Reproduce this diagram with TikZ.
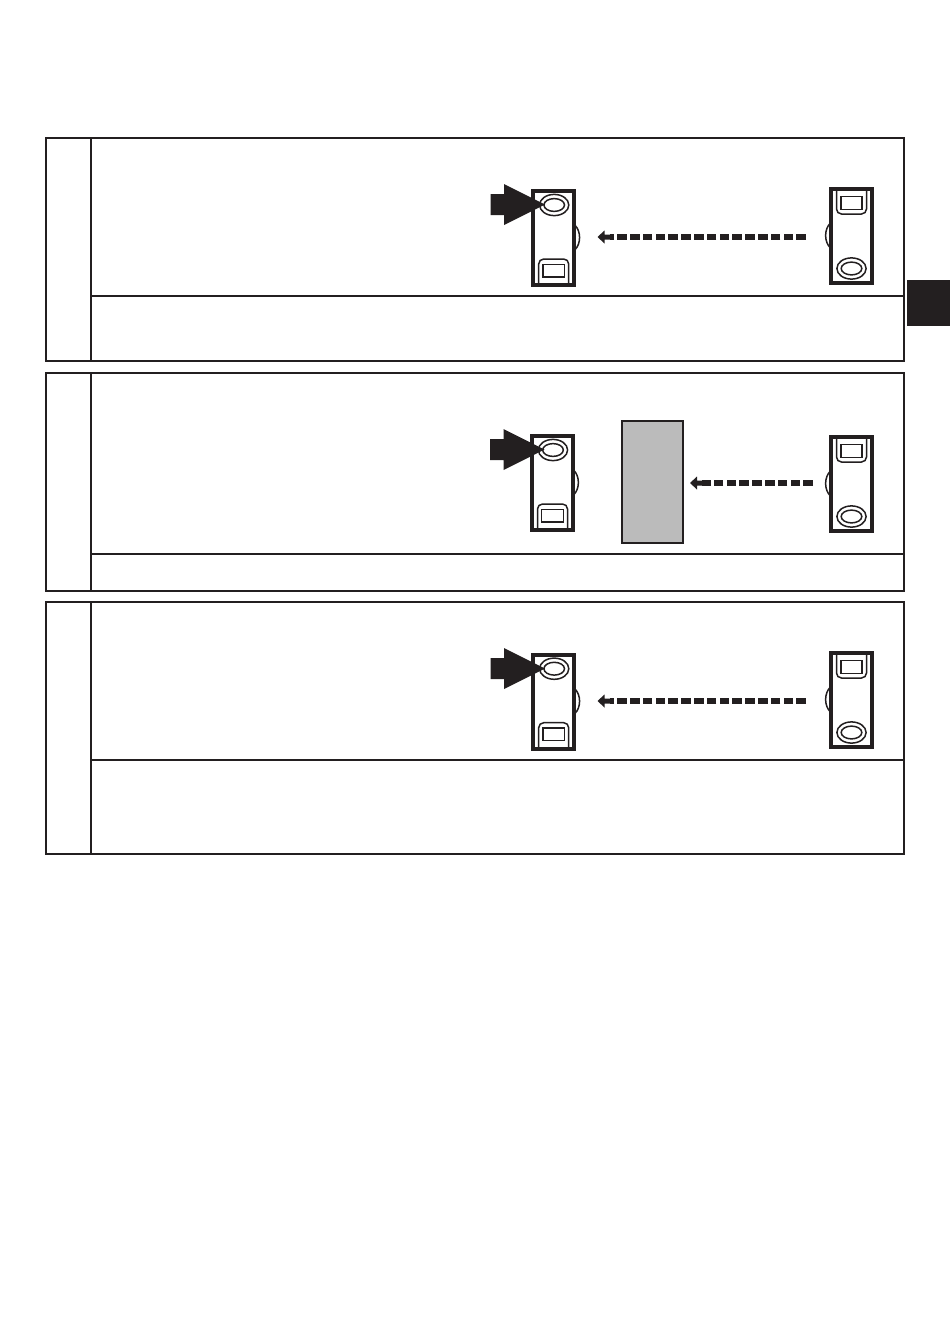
\documentclass[tikz,border=0pt]{standalone}
\usepackage{xcolor}
\definecolor{ink}{HTML}{231F20}
\definecolor{shade}{HTML}{BBBBBB}
\tikzset{
  x=1pt,y=-1pt,
  frameline/.style={draw=ink,line width=2pt},
  shell/.style={draw=ink,line width=4pt,fill=white},
  fine/.style={draw=ink,line width=1.5pt},
  beam/.style={draw=ink,line width=5.4pt,dash pattern=on 9.6pt off 3.2pt},
  beamhead/.style={fill=ink,draw=none},
  bigarrow/.style={fill=ink,draw=none},
  receiverunit/.pic={
    \path[shell] (-20.4,-47) rectangle (20.4,47);
    \draw[fine] (0.5,-33) ellipse (14.6 and 10.6);
    \draw[fine] (0.5,-33) ellipse (10.3 and 6.4);
    \draw[fine,rounded corners=5pt] (-15,46) -- (-15,21) -- (15,21) -- (15,46);
    \draw[fine] (-10.8,26.5) rectangle (10.8,38.8);
    \draw[fine] (21,-13) .. controls (27.5,-7) and (27.5,6) .. (21,12);
  },
  emitterunit/.pic={
    \path[shell] (-20.4,-47) rectangle (20.4,47);
    \draw[fine] (0,32.5) ellipse (14.6 and 10.6);
    \draw[fine] (0,32.5) ellipse (10.3 and 6.4);
    \draw[fine,rounded corners=5pt] (-15,-46) -- (-15,-22) -- (15,-22) -- (15,-46);
    \draw[fine] (-10.6,-39.3) rectangle (10.6,-26.7);
    \draw[fine] (-21,-13) .. controls (-27.5,-7) and (-27.5,6) .. (-21,12);
  },
  pointer/.pic={
    \path[bigarrow] (-54.5,-10.5) -- (-41,-10.5) -- (-41,-20.5) -- (0,0) -- (-41,20.5) -- (-41,10.5) -- (-54.5,10.5) -- cycle;
  }
}
\begin{document}
\begin{tikzpicture}
\useasboundingbox (0,0) rectangle (950,1339);

% frames
\draw[frameline] (46,138) rectangle (904,361);
\draw[frameline] (91,138) -- (91,361);
\draw[frameline] (91,296) -- (904,296);

\draw[frameline] (46,373) rectangle (904,591);
\draw[frameline] (91,373) -- (91,591);
\draw[frameline] (91,554) -- (904,554);

\draw[frameline] (46,602) rectangle (904,854);
\draw[frameline] (91,602) -- (91,854);
\draw[frameline] (91,760) -- (904,760);

% tab
\fill[ink] (907,280) rectangle (950,326);

% row 1
\pic at (553.7,238) {receiverunit};
\pic at (851.5,236) {emitterunit};
\pic at (545,204.5) {pointer};
\coordinate (a1) at (806,237);
\coordinate (b1) at (610,237);
\coordinate (t1) at (597.5,237);
\draw[beam] (a1) -- (b1);
\path[beamhead] (t1) -- ++(7,-6.5) -- ++(0,4) -- ++(6,0) -- ++(0,5) -- ++(-6,0) -- ++(0,4) -- cycle;

% row 2
\path[draw=ink,line width=2pt,fill=shade] (622,421) rectangle (683,543);
\pic at (552.5,483) {receiverunit};
\pic at (851.5,484) {emitterunit};
\pic at (544.5,449.5) {pointer};
\coordinate (a2) at (813,483);
\coordinate (b2) at (702,483);
\coordinate (t2) at (690,483);
\draw[beam] (a2) -- (b2);
\path[beamhead] (t2) -- ++(7,-6.5) -- ++(0,4) -- ++(6,0) -- ++(0,5) -- ++(-6,0) -- ++(0,4) -- cycle;

% row 3
\pic at (553.7,701.7) {receiverunit};
\pic at (851.5,700) {emitterunit};
\pic at (545,668.5) {pointer};
\coordinate (a3) at (806,701);
\coordinate (b3) at (610,701);
\coordinate (t3) at (597.5,701);
\draw[beam] (a3) -- (b3);
\path[beamhead] (t3) -- ++(7,-6.5) -- ++(0,4) -- ++(6,0) -- ++(0,5) -- ++(-6,0) -- ++(0,4) -- cycle;
\end{tikzpicture}
\end{document}
